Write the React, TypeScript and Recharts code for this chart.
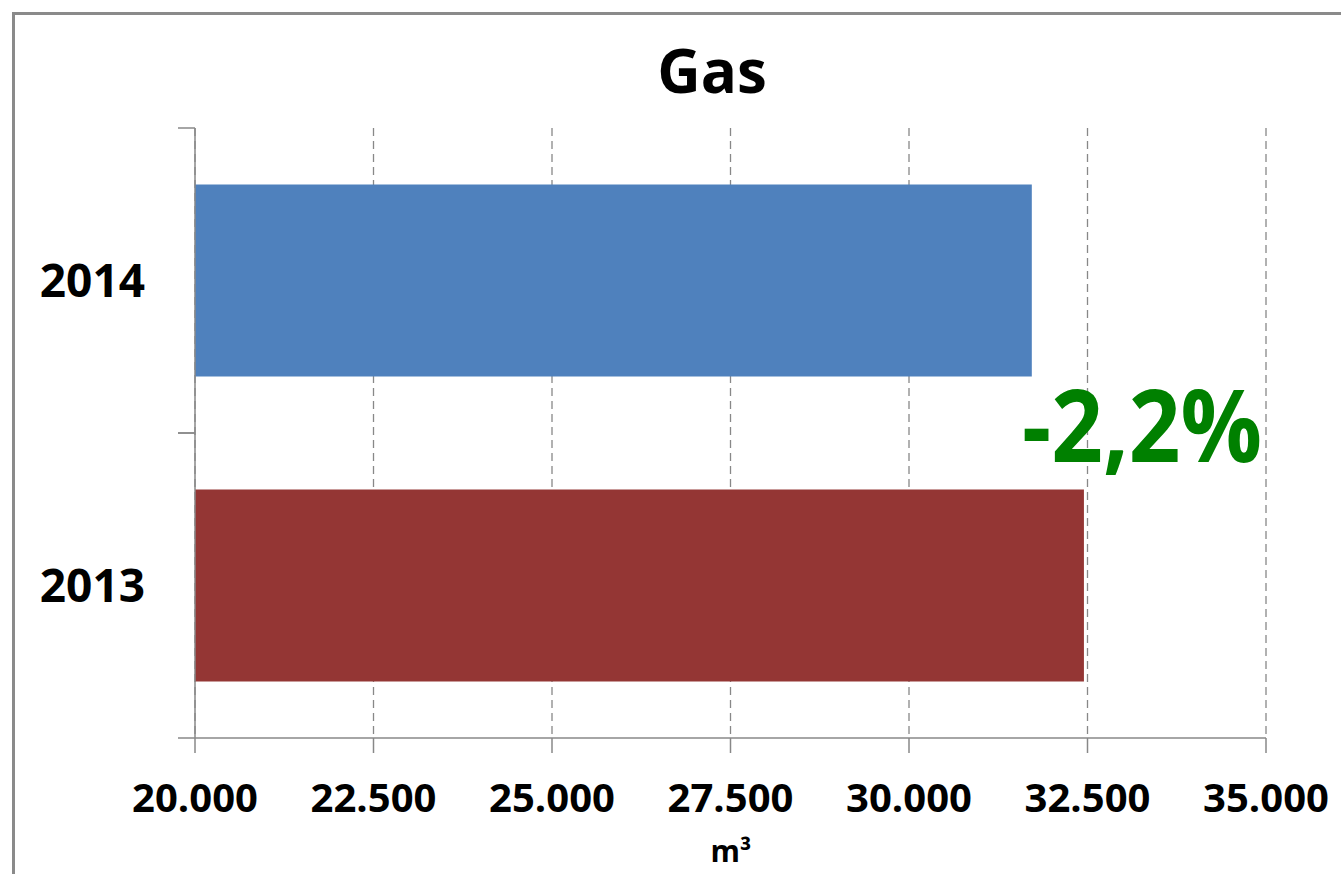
import React from 'react';
import { BarChart, Bar, XAxis, YAxis, CartesianGrid, Cell } from 'recharts';

const categories = ['2014', '2013'];
const gasValues = [31720, 32450];
const barColors = ['#4F81BD', '#943634'];
const xTicks = [20000, 22500, 25000, 27500, 30000, 32500, 35000];
const title = 'Gas';
const unitLabel = 'm³';

const data = categories.map((c, i) => ({ year: c, gas: gasValues[i] }));

const change = ((gasValues[0] - gasValues[1]) / gasValues[1]) * 100;
const changeText = `${change.toFixed(1).replace('.', ',')}%`;

const FONT = '"Open Sans", "DejaVu Sans", sans-serif';
const AXIS_COLOR = '#888888';
const Y_LABEL_GAP = 50;

const fmt = (v: number) => {
  const s = Math.round(v).toString();
  return s.replace(/\B(?=(\d{3})+(?!\d))/g, '.');
};

const CatTick = (props: any) => {
  const { x, y, payload } = props;
  const half = payload && payload.offset ? payload.offset : 0;
  const ax = x + Y_LABEL_GAP;
  return (
    <g>
      <line x1={ax - 17} x2={ax} y1={y - half} y2={y - half} stroke={AXIS_COLOR} strokeWidth={1.5} />
      <line x1={ax - 17} x2={ax} y1={y + half} y2={y + half} stroke={AXIS_COLOR} strokeWidth={1.5} />
      <text x={x} y={y} dy="0.36em" textAnchor="end" fontFamily={FONT} fontWeight={700} fontSize={46} fill="#000">
        {payload.value}
      </text>
    </g>
  );
};

export default function App() {
  return (
    <div style={{ position: 'absolute', left: 0, top: 0, width: 1341, height: 874, overflow: 'hidden', background: '#fff' }}>
      <div
        style={{
          position: 'absolute',
          left: 12,
          top: 12,
          width: 1400,
          height: 1000,
          border: '3px solid #8a8a8a',
          boxSizing: 'border-box',
        }}
      />
      <div style={{ position: 'absolute', left: 0, top: 0 }}>
        <BarChart
          width={1341}
          height={874}
          data={data}
          layout="vertical"
          margin={{ top: 128, right: 75, bottom: 0, left: 0 }}
          barCategoryGap="18.5%"
        >
          <CartesianGrid horizontal={false} vertical stroke={AXIS_COLOR} strokeDasharray="8 5" strokeWidth={1.3} />
          <XAxis
            type="number"
            domain={[20000, 35000]}
            ticks={xTicks}
            interval={0}
            allowDataOverflow
            height={136}
            tickFormatter={fmt}
            axisLine={{ stroke: AXIS_COLOR, strokeWidth: 1.5 }}
            tickLine={{ stroke: AXIS_COLOR, strokeWidth: 1.5 }}
            tickSize={15}
            tickMargin={31}
            tick={{ fontFamily: FONT, fontWeight: 700, fontSize: 40, fill: '#000' }}
          />
          <YAxis
            type="category"
            dataKey="year"
            width={195}
            axisLine={{ stroke: AXIS_COLOR, strokeWidth: 1.5 }}
            tickLine={false}
            tickSize={0}
            tickMargin={Y_LABEL_GAP}
            tick={<CatTick />}
            interval={0}
          />
          <Bar dataKey="gas" isAnimationActive={false}>
            {data.map((d, i) => (
              <Cell key={d.year} fill={barColors[i]} />
            ))}
          </Bar>
        </BarChart>
      </div>
      <svg width={1341} height={874} style={{ position: 'absolute', left: 0, top: 0, pointerEvents: 'none' }}>
        <text x={712} y={93} textAnchor="middle" fontFamily={FONT} fontWeight={700} fontSize={60} fill="#000">
          {title}
        </text>
        <text
          x={1022}
          y={462}
          fontFamily={FONT}
          fontWeight={700}
          fontSize={100}
          fill="#008000"
          textLength={240}
          lengthAdjust="spacingAndGlyphs"
        >
          {changeText}
        </text>
        <text x={731} y={862} textAnchor="middle" fontFamily={FONT} fontWeight={700} fontSize={30} fill="#000">
          {unitLabel}
        </text>
      </svg>
    </div>
  );
}
